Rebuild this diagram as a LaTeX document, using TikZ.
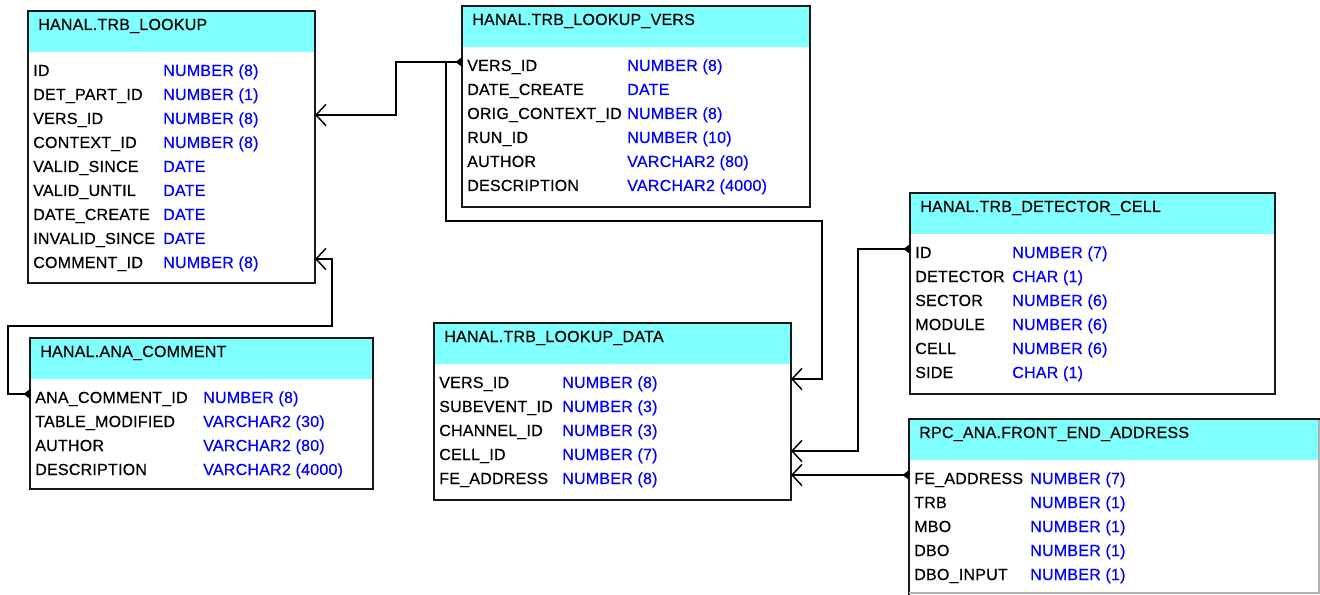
\documentclass[tikz,border=0pt]{standalone}
\usepackage{fontspec}
\setmainfont{Liberation Sans}[LetterSpace=1.5,FakeBold=0.5]
\usetikzlibrary{arrows.meta,calc}
\definecolor{headcyan}{RGB}{128,255,255}
\definecolor{typeblue}{RGB}{0,0,255}
\newcommand\erfont{\fontsize{12pt}{14pt}\selectfont}
\tikzset{
  tablebox/.style={draw=black!90, line width=1.4pt, fill=white, inner sep=0pt,
    outer sep=0pt, anchor=north west},
  tabletitle/.style={anchor=base west, inner sep=0pt, text=black, font=\erfont},
  colname/.style={anchor=base west, inner sep=0pt, text=black, font=\erfont},
  coltype/.style={anchor=base west, inner sep=0pt, text=typeblue, font=\erfont},
  fk/.style={draw=black, line width=1.1pt,
    -{Straight Barb[length=7.5pt,width=16pt]}},
  fkpk/.style={fk, {Triangle[reversed,length=5pt,width=7pt]}-{Straight Barb[length=7.5pt,width=16pt]}}
}
% \ertable{name}{left}{top}{width}{height}{title}{type column offset}{rows}
\newcommand{\ertable}[8]{%
  \node[tablebox, minimum width=#4*0.75pt, minimum height=#5*0.75pt,
    path picture={\fill[headcyan] (path picture bounding box.north west)
      rectangle ([yshift=-41*0.75pt]path picture bounding box.north east);}]
    (#1) at (#2,#3) {};
  \node[tabletitle] (#1-title) at (#2+10,#3+19) {#6};
  \foreach \cname/\ctype [count=\i] in {#8} {
    \node[colname] (#1-n\i) at (#2+5,#3+41+24*\i) {\cname};
    \node[coltype] (#1-t\i) at (#2+#7,#3+41+24*\i) {\ctype};
  }
}
\begin{document}
\begin{tikzpicture}[x=0.75pt,y=-0.75pt]
\useasboundingbox (0,0) rectangle (1320,595);
\fill[white] (0,0) rectangle (1320,595);
\clip (0,0) rectangle (1320,595);

\ertable{t1}{28}{11}{287}{272}{HANAL.TRB\_LOOKUP}{135}{
  ID/NUMBER (8), DET\_PART\_ID/NUMBER (1), VERS\_ID/NUMBER (8),
  CONTEXT\_ID/NUMBER (8), VALID\_SINCE/DATE, VALID\_UNTIL/DATE,
  DATE\_CREATE/DATE, INVALID\_SINCE/DATE, COMMENT\_ID/NUMBER (8)}

\ertable{t2}{462}{6}{348}{201}{HANAL.TRB\_LOOKUP\_VERS}{165}{
  VERS\_ID/NUMBER (8), DATE\_CREATE/DATE, ORIG\_CONTEXT\_ID/NUMBER (8),
  RUN\_ID/NUMBER (10), AUTHOR/VARCHAR2 (80), DESCRIPTION/VARCHAR2 (4000)}

\ertable{t3}{30}{338}{343}{151}{HANAL.ANA\_COMMENT}{173}{
  ANA\_COMMENT\_ID/NUMBER (8), TABLE\_MODIFIED/VARCHAR2 (30),
  AUTHOR/VARCHAR2 (80), DESCRIPTION/VARCHAR2 (4000)}

\ertable{t4}{434}{323}{357}{177}{HANAL.TRB\_LOOKUP\_DATA}{128}{
  VERS\_ID/NUMBER (8), SUBEVENT\_ID/NUMBER (3), CHANNEL\_ID/NUMBER (3),
  CELL\_ID/NUMBER (7), FE\_ADDRESS/NUMBER (8)}

\ertable{t5}{910}{193}{365}{201}{HANAL.TRB\_DETECTOR\_CELL}{102}{
  ID/NUMBER (7), DETECTOR/CHAR (1), SECTOR/NUMBER (6), MODULE/NUMBER (6),
  CELL/NUMBER (6), SIDE/CHAR (1)}

\ertable{t6}{909}{419}{440}{200}{RPC\_ANA.FRONT\_END\_ADDRESS}{121}{
  FE\_ADDRESS/NUMBER (7), TRB/NUMBER (1), MBO/NUMBER (1), DBO/NUMBER (1),
  DBO\_INPUT/NUMBER (1)}
% cut edge of the last table
\draw[black!30, line width=0.8pt] (t6.north west -| 1319,0) ++(0,1) -- (1319,593) -- (t6.west |- 0,593);

% attachment points, a little above the row baselines
\coordinate (vsrc) at ($(t2-n1.base -| t2.west)+(0,-9)$);
\coordinate (lkvers) at ($(t1-n3.base -| t1.east)+(0,-9)$);
\coordinate (lkcomm) at ($(t1-n9.base -| t1.east)+(0,-9)$);
\coordinate (csrc) at ($(t3-n1.base -| t3.west)+(0,-9)$);
\coordinate (dtvers) at ($(t4-n1.base -| t4.east)+(0,-9)$);
\coordinate (dtcell) at ($(t4-n4.base -| t4.east)+(0,-9)$);
\coordinate (cellsrc) at ($(t5-n1.base -| t5.west)+(0,-9)$);
\coordinate (fesrc) at ($(t6-n1.base -| t6.west)+(0,-9)$);

% bends
\coordinate (k1) at (446,221);
\coordinate (k2) at (822,221);
\coordinate (k3) at (8,326);
\coordinate (k4) at (332,326);
\coordinate (k5) at (858,350);

\draw[fkpk] (vsrc) -- ++(-66,0) |- (lkvers);
\draw[fk] (vsrc) -| (k1) -- (k2) |- (dtvers);
\draw[fkpk] (csrc) -| (k3) -- (k4) |- (lkcomm);
\draw[fkpk] (cellsrc) -| (k5) |- (dtcell);
\draw[fkpk] (fesrc) -- (fesrc -| t4.east);
\end{tikzpicture}
\end{document}
